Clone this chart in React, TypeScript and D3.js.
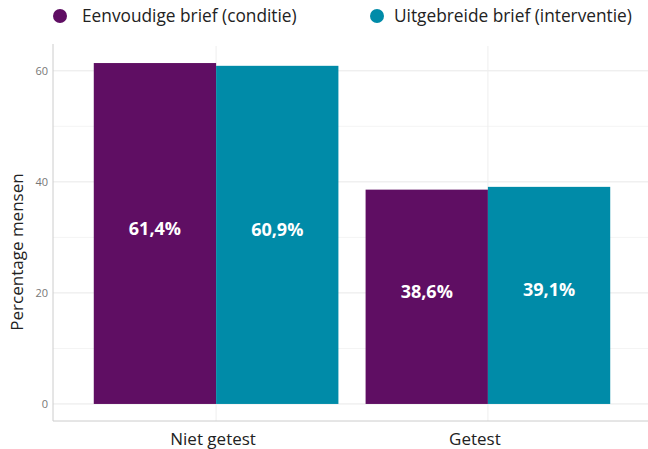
import React from "react";
import * as d3 from "d3";

const categories = ["Niet getest", "Getest"];
const seriesNames = ["Eenvoudige brief (conditie)", "Uitgebreide brief (interventie)"];
const eenvoudig = [61.4, 38.6];
const uitgebreid = [60.9, 39.1];
const yTicks = [0, 20, 40, 60];
const yMinor = [10, 30, 50];
const colors = ["#5f0e63", "#008ba8"];

const W = 648, H = 449;
const labelNudge = [-3, -13];
const legendX = [60, 377];

export default function App() {
  const series = [eenvoudig, uitgebreid];
  const maxV = d3.max(series.flat()) as number;
  const y = d3.scaleLinear().domain([-0.05 * maxV, maxV * 1.05]).range([421, 46]);
  const x = d3.scaleLinear().domain([0.4, 2.6]).range([53, 651]);
  const unit = x(2) - x(1);
  const barW = unit * 0.45;
  const fmt = (v: number) => v.toFixed(1).replace(".", ",") + "%";
  const font = "'Open Sans', sans-serif";

  return (
    <svg width={W} height={H} style={{ position: "absolute", left: 0, top: 0, background: "#fff" }} fontFamily={font}>
      <rect x={0} y={0} width={W} height={H} fill="#fff" />
      {yMinor.map((t) => (
        <line key={"m" + t} x1={53} x2={648} y1={y(t)} y2={y(t)} stroke="#f4f4f4" strokeWidth={1} />
      ))}
      {yTicks.map((t) => (
        <line key={"g" + t} x1={53} x2={648} y1={y(t)} y2={y(t)} stroke="#e8e8e8" strokeWidth={1} />
      ))}
      {categories.map((c, i) => (
        <line key={"v" + c} x1={x(i + 1)} x2={x(i + 1)} y1={46} y2={421} stroke="#eeeeee" strokeWidth={1} />
      ))}
      {categories.map((c, i) =>
        series.map((s, j) => (
          <rect
            key={c + j}
            x={x(i + 1) - barW + j * barW}
            y={y(s[i])}
            width={barW}
            height={y(0) - y(s[i])}
            fill={colors[j]}
          />
        ))
      )}
      {categories.map((c, i) =>
        series.map((s, j) => (
          <text
            key={"l" + c + j}
            x={x(i + 1) - barW / 2 + j * barW}
            y={y(s[i] / 2) + 1}
            fill="#fff"
            fontSize={18}
            fontWeight={700}
            textAnchor="middle"
          >
            {fmt(s[i])}
          </text>
        ))
      )}
      <line x1={53} x2={53} y1={44} y2={421} stroke="#cccccc" strokeWidth={1} />
      <line x1={53} x2={648} y1={421} y2={421} stroke="#cccccc" strokeWidth={1} />
      {yTicks.map((t) => (
        <text key={"t" + t} x={48} y={y(t)} dy="0.35em" fontSize={11} fill="#777" textAnchor="end">
          {t}
        </text>
      ))}
      {categories.map((c, i) => (
        <text key={"x" + c} x={x(i + 1) + labelNudge[i]} y={445} fontSize={17} fill="#222" textAnchor="middle">
          {c}
        </text>
      ))}
      <text transform={`translate(23,252) rotate(-90)`} fontSize={17} fill="#222" textAnchor="middle">
        Percentage mensen
      </text>
      {seriesNames.map((n, j) => (
        <g key={"lg" + j} transform={`translate(${legendX[j]},16)`}>
          <circle cx={0} cy={0} r={7} fill={colors[j]} />
          <text x={legendX[j] === 60 ? 22 : 17} y={0} dy="0.35em" fontSize={17.3} fill="#222">
            {n}
          </text>
        </g>
      ))}
    </svg>
  );
}
